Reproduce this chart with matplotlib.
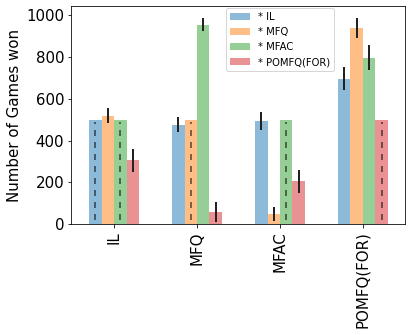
import numpy as np
import matplotlib
matplotlib.use('Agg')
import matplotlib.pyplot as plt

# opponents on the x axis, one bar per trained method
opponents = ['IL', 'MFQ', 'MFAC', 'POMFQ(FOR)']
methods = ['* IL', '* MFQ', '* MFAC', '* POMFQ(FOR)']

# games won, rows = method, columns = opponent
wins = [
	[500, 476, 495, 697],
	[519, 500, 48, 938],
	[500, 955, 500, 797],
	[305, 58, 205, 500],
]
errs = [
	[0, 37, 43, 57],
	[37, 0, 34, 48],
	[0, 30, 0, 60],
	[55, 47, 55, 0],
]

colors = ['tab:blue', 'tab:orange', 'tab:green', 'tab:red']
width = 0.15

fig = plt.figure(figsize=(413 / 72, 335 / 72), dpi=72)
ax = fig.add_axes([0.172, 0.331, 0.809, 0.651])

x = np.arange(len(opponents))
for i, name in enumerate(methods):
	pos = x + (i - 1.5) * width
	ax.bar(pos, wins[i], width, color=colors[i], alpha=0.5, label=name)
	for j in range(len(opponents)):
		if errs[i][j] > 0:
			ax.errorbar(pos[j], wins[i][j], yerr=errs[i][j], color='#222222',
						lw=2, capsize=0)
		else:
			# self-play: draw dashed reference line inside the bar
			ax.vlines(pos[j], 20, wins[i][j] - 10, colors='black', alpha=0.5,
					  linestyles=(0, (3, 3)), lw=2)

ax.set_xticks(x)
ax.set_xticklabels(opponents, rotation=90, fontsize=15)
ax.tick_params(axis='y', labelsize=15)
ax.set_ylabel('Number of Games won', fontsize=15)
ax.set_xlim(-0.52, 3.51)
ax.set_ylim(0, 1044)
ax.legend(loc='upper center', bbox_to_anchor=(0.626, 0.99), borderaxespad=0,
		  fontsize=10)

fig.savefig('out.png', dpi=72)
